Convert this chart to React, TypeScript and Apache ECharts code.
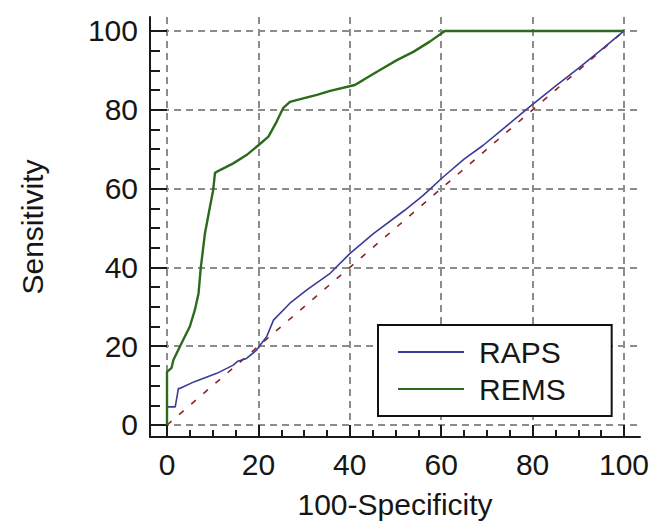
import React, { useEffect, useRef } from "react";
import * as echarts from "echarts";

const X_MAJOR = [0, 20, 40, 60, 80, 100];
const X_MINOR = [5, 10, 15, 25, 30, 35, 45, 50, 55, 65, 70, 75, 85, 90, 95];
const Y_MAJOR = [0, 20, 40, 60, 80, 100];
const Y_MINOR = [5, 10, 15, 25, 30, 35, 45, 50, 55, 65, 70, 75, 85, 90, 95];

const SERIES_NAMES = ["RAPS", "REMS"];

const RAPS: number[][] = [
  [0, 0], [0, 4.6], [1.8, 4.6], [2.5, 9.3], [2.9, 9.3], [6, 11], [10.9, 13.1],
  [14.5, 15.2], [15.5, 16.2], [17.4, 16.9], [19.6, 19], [20.4, 20.3], [21.8, 22.4],
  [23.3, 26.6], [26.9, 30.9], [30.6, 34.3], [35.7, 38.5], [40, 43.5], [45.1, 48.5],
  [52, 54.5], [56, 58.2], [60.5, 63], [65, 67.5], [69.2, 71], [74, 75.6],
  [79.4, 80.8], [85, 86], [90, 90.5], [95, 95.2], [100, 100]
];

const REMS: number[][] = [
  [0, 0], [0, 13.5], [1, 14.5], [1.4, 16.5], [3.2, 20.8], [5, 25], [6.1, 29.2],
  [6.9, 33.4], [7.4, 40], [8.3, 48.6], [9.4, 55.4], [10.1, 59.6], [10.5, 64],
  [11.6, 64.7], [14.5, 66.4], [17.4, 68.5], [20, 71], [22.2, 73.2], [24, 77],
  [25.4, 80.4], [26.9, 82], [29.8, 82.9], [32.8, 83.8], [35.7, 84.8], [41.1, 86.3],
  [43, 87.6], [46.6, 90.1], [50.3, 92.6], [53.9, 94.7], [57.5, 97.3], [60.8, 100],
  [100, 100]
];

const REFERENCE: number[][] = [[0, 0], [100, 100]];

const FONT = "'Liberation Sans', Arial, sans-serif";
const TEXT_COLOR = "#161616";
const GRID_STYLE = { color: "#8c8c8c", width: 2, type: [7, 5] as number[] };

export default function App() {
  const ref = useRef<HTMLDivElement>(null);

  useEffect(() => {
    if (!ref.current) return;
    const chart = echarts.init(ref.current, undefined, { renderer: "svg" });
    const xRange = { min: -3.72, max: 103.5 };
    const yRange = { min: -3.05, max: 103.55 };
    chart.setOption({
      animation: false,
      backgroundColor: "#ffffff",
      grid: { left: 150, right: 17, top: 17, bottom: 88, containLabel: false },
      legend: {
        data: SERIES_NAMES,
        orient: "vertical",
        left: 378,
        top: 325,
        padding: [12, 46, 12, 19],
        itemWidth: 66,
        itemHeight: 20,
        itemGap: 7,
        borderColor: "#111",
        borderWidth: 2,
        borderRadius: 0,
        backgroundColor: "#ffffff",
        itemStyle: { opacity: 0 },
        textStyle: {
          fontFamily: FONT,
          fontSize: 30,
          lineHeight: 30,
          color: TEXT_COLOR,
          padding: [0, 0, 0, 10],
        },
      },
      xAxis: [
        {
          type: "value",
          position: "bottom",
          ...xRange,
          name: "100-Specificity",
          nameLocation: "middle",
          nameGap: 52,
          nameTextStyle: { fontFamily: FONT, fontSize: 30, color: TEXT_COLOR },
          axisLine: { show: true, onZero: false, lineStyle: { color: "#1a1a1a", width: 2 } },
          axisTick: {
            show: true,
            inside: true,
            length: 12,
            customValues: X_MAJOR,
            lineStyle: { color: "#1a1a1a", width: 2 },
          },
          axisLabel: {
            customValues: X_MAJOR,
            fontFamily: FONT,
            fontSize: 30,
            color: TEXT_COLOR,
            margin: 12,
          },
          splitLine: { show: true, showMinLine: true, showMaxLine: true, lineStyle: GRID_STYLE },
        },
        {
          type: "value",
          position: "bottom",
          offset: 0,
          ...xRange,
          axisLine: { show: false, onZero: false },
          axisTick: {
            show: true,
            inside: true,
            length: 7,
            customValues: X_MINOR,
            lineStyle: { color: "#1a1a1a", width: 2 },
          },
          axisLabel: { show: false },
          splitLine: { show: false },
        },
      ],
      yAxis: [
        {
          type: "value",
          position: "left",
          ...yRange,
          name: "Sensitivity",
          nameLocation: "middle",
          nameGap: 103,
          nameTextStyle: { fontFamily: FONT, fontSize: 30, color: TEXT_COLOR },
          axisLine: { show: true, onZero: false, lineStyle: { color: "#1a1a1a", width: 2 } },
          axisTick: {
            show: true,
            inside: true,
            length: 17,
            customValues: Y_MAJOR,
            lineStyle: { color: "#1a1a1a", width: 2 },
          },
          axisLabel: {
            customValues: Y_MAJOR,
            fontFamily: FONT,
            fontSize: 30,
            color: TEXT_COLOR,
            margin: 12,
          },
          splitLine: { show: true, showMinLine: true, showMaxLine: true, lineStyle: GRID_STYLE },
        },
        {
          type: "value",
          position: "left",
          offset: 0,
          ...yRange,
          axisLine: { show: false, onZero: false },
          axisTick: {
            show: true,
            inside: true,
            length: 10,
            customValues: Y_MINOR,
            lineStyle: { color: "#1a1a1a", width: 2 },
          },
          axisLabel: { show: false },
          splitLine: { show: false },
        },
      ],
      series: [
        {
          name: "Reference",
          type: "line",
          data: REFERENCE,
          symbol: "none",
          silent: true,
          z: 2,
          lineStyle: { color: "#8b2424", width: 1.6, type: [6, 10] },
        },
        {
          name: "RAPS",
          type: "line",
          data: RAPS,
          symbol: "none",
          z: 3,
          color: "#3b3b98",
          lineStyle: { color: "#3b3b98", width: 1.6 },
        },
        {
          name: "REMS",
          type: "line",
          data: REMS,
          symbol: "none",
          z: 4,
          color: "#2c6a1c",
          lineStyle: { color: "#2c6a1c", width: 2.4 },
        },
      ],
    });
    return () => chart.dispose();
  }, []);

  return (
    <div
      ref={ref}
      style={{ position: "absolute", left: 0, top: 0, width: 657, height: 525 }}
    />
  );
}
